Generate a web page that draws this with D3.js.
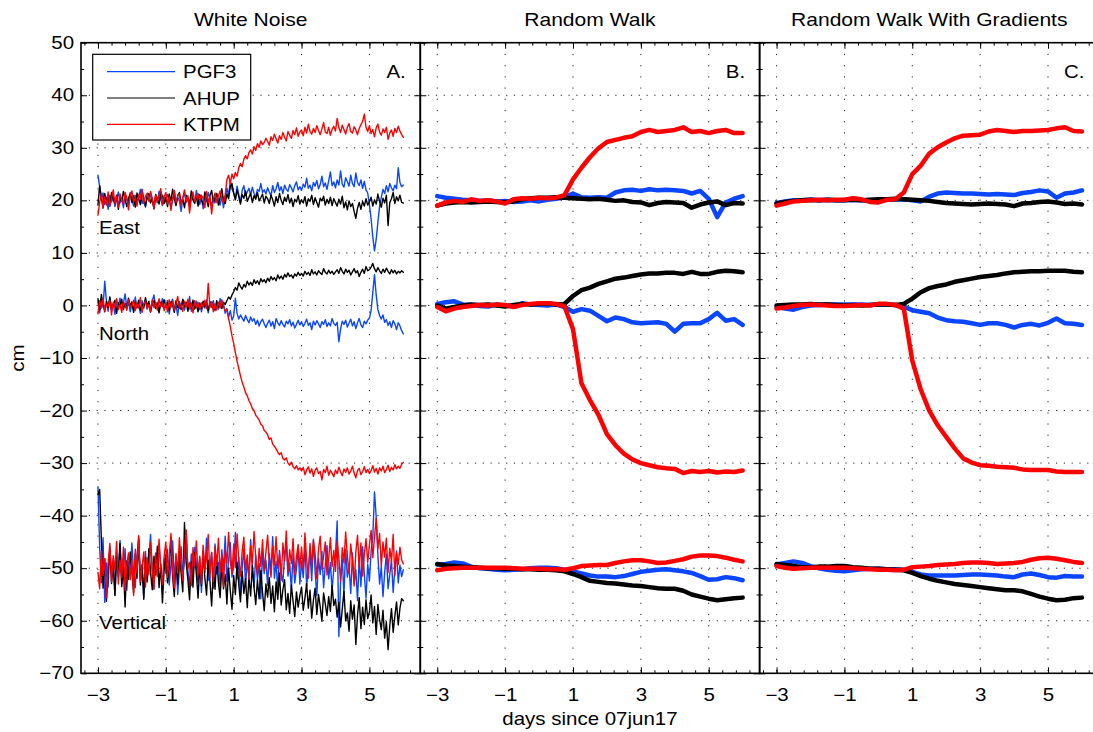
<!DOCTYPE html>
<html>
<head>
<meta charset="utf-8">
<script src="https://cdn.jsdelivr.net/npm/d3@7"></script>
<style>
body { margin: 0; background: #fff; }
svg { display: block; font-family: "Liberation Sans", Arial, Helvetica, sans-serif; }
</style>
</head>
<body>
<svg id="chart" width="1093" height="732"></svg>
<script>
// time grids (days since 07jun17)
var tA = d3.range(-3, 6.001, 0.05);
var tB = d3.range(-3, 6.001, 0.25);

var stations = ["PGF3", "AHUP", "KTPM"];
var colors = ["#0a45ff", "#000000", "#ff0000"];
var titles = ["White Noise", "Random Walk", "Random Walk With Gradients"];
var tags = ["A.", "B.", "C."];
var components = ["East", "North", "Vertical"];
var xMajor = [-3, -1, 1, 3, 5];
var yMajor = [-70, -60, -50, -40, -30, -20, -10, 0, 10, 20, 30, 40, 50];

// ---- panel A: white noise (every 0.05 day, one row per day) ----
var aEastP = [
 24.8, 22.6, 20.1, 21.4, 19.2, 20.6, 18.3, 21.0, 19.7, 20.9, 18.8, 20.2, 21.6, 19.5, 20.4, 18.6, 21.2, 20.0, 19.3, 21.5,
 20.3, 18.9, 21.0, 19.8, 20.7, 22.1, 19.4, 20.5, 18.7, 20.8, 19.9, 21.3, 20.1, 18.5, 20.6, 19.6, 21.7, 20.2, 19.0, 20.9,
 19.7, 21.1, 20.4, 18.6, 20.0, 21.8, 19.3, 20.6, 19.9, 17.9, 20.5, 21.4, 19.6, 20.2, 18.8, 21.0, 20.3, 19.4, 21.9, 20.1,
 19.2, 20.7, 18.4, 20.9, 19.8, 21.5, 20.2, 18.9, 20.6, 19.5, 21.2, 20.0, 19.1, 20.8, 18.6, 20.4, 22.3, 21.0, 23.6, 22.1,
 21.4, 20.2, 22.7, 21.1, 19.6, 21.9, 22.8, 20.9, 21.6, 22.3, 21.0, 22.5, 21.3, 20.6, 22.1, 21.7, 23.2, 21.5, 22.0, 21.2,
 22.4, 21.6, 20.9, 22.8, 21.5, 22.2, 23.4, 21.8, 22.6, 21.3, 22.9, 22.1, 21.7, 23.0, 22.4, 21.6, 22.8, 23.5, 22.0, 22.6,
 21.9, 23.1, 22.5, 24.2, 22.3, 22.9, 21.8, 23.4, 22.7, 23.8, 22.2, 23.0, 24.6, 22.6, 23.3, 22.1, 23.7, 25.4, 22.8, 23.5,
 22.4, 23.9, 22.9, 25.6, 23.1, 22.5, 24.3, 23.6, 22.7, 24.8, 23.2, 22.6, 25.2, 23.4, 22.8, 23.9, 22.3, 23.6, 22.0, 21.4,
 19.2, 16.5, 13.0, 10.4, 12.6, 15.8, 18.9, 20.5, 22.1, 21.3, 22.8, 21.6, 23.2, 22.4, 21.8, 22.9, 22.2, 26.2, 23.4, 22.6,
 22.9];
var aEastA = [
 19.1, 22.8, 20.4, 18.6, 21.3, 19.7, 20.8, 18.9, 21.5, 20.2, 19.4, 21.0, 18.3, 20.6, 19.9, 21.7, 20.1, 18.8, 20.5, 21.2,
 19.6, 20.9, 18.7, 21.4, 20.3, 19.2, 22.0, 20.0, 18.9, 20.7, 21.3, 19.5, 20.4, 18.4, 21.1, 20.2, 19.3, 21.6, 20.8, 19.4,
 20.6, 18.8, 21.2, 19.9, 22.1, 20.3, 19.0, 20.9, 21.5, 19.6, 20.2, 18.6, 21.0, 20.5, 19.3, 21.8, 20.1, 19.5, 20.7, 18.9,
 21.1, 20.0, 19.2, 21.6, 20.4, 18.8, 20.9, 21.9, 19.7, 20.5, 21.3, 19.1, 20.6, 22.2, 20.0, 19.4, 21.2, 20.3, 22.6, 23.2,
 21.4, 20.1, 22.0, 20.7, 19.3, 21.1, 20.4, 21.8, 19.8, 20.6, 21.3, 19.6, 20.9, 20.2, 21.5, 19.9, 20.5, 21.2, 19.5, 20.8,
 20.3, 19.4, 21.0, 20.1, 18.9, 20.7, 19.6, 21.3, 20.0, 19.2, 20.6, 19.8, 21.1, 19.5, 20.4, 18.8, 20.2, 19.7, 20.9, 19.3,
 20.1, 19.5, 20.7, 18.9, 20.3, 19.8, 21.0, 19.2, 20.5, 19.6, 18.7, 20.4, 19.9, 20.8, 19.1, 20.2, 19.4, 20.6, 19.0, 20.3,
 19.6, 18.9, 20.2, 19.3, 20.8, 18.6, 19.7, 18.2, 19.9, 18.8, 19.4, 17.9, 16.6, 18.5, 19.6, 18.3, 19.8, 18.9, 20.3, 19.1,
 19.7, 20.6, 18.9, 20.1, 19.3, 21.2, 19.8, 18.7, 20.4, 19.5, 21.0, 15.2, 19.6, 20.3, 21.5, 19.4, 20.7, 19.9, 21.0, 19.6,
 19.5];
var aEastK = [
 17.2, 19.6, 21.3, 18.5, 20.7, 19.1, 21.6, 18.9, 20.3, 22.0, 19.4, 20.8, 18.7, 21.2, 20.0, 19.3, 21.5, 20.4, 18.2, 20.9,
 21.8, 19.7, 20.5, 18.9, 21.1, 20.2, 22.1, 19.4, 20.8, 21.4, 19.8, 21.7, 20.3, 18.4, 21.0, 19.6, 20.9, 22.2, 19.2, 20.6,
 21.5, 19.3, 20.7, 18.1, 20.4, 21.9, 19.6, 20.8, 21.2, 19.0, 20.5, 22.0, 19.7, 20.9, 17.6, 20.3, 21.6, 19.8, 20.6, 21.3,
 19.9, 21.0, 20.4, 18.6, 21.7, 19.5, 20.8, 17.4, 20.2, 21.4, 19.6, 20.9, 21.8, 20.3, 19.4, 21.1, 23.9, 24.8, 23.2, 25.0,
 24.1, 25.3, 24.6, 26.2, 27.0, 26.4, 27.8, 28.5, 27.9, 29.1, 29.6, 28.8, 30.2, 29.5, 30.8, 30.1, 31.3, 30.6, 31.0, 31.8,
 31.2, 30.5, 32.1, 31.4, 32.6, 31.7, 30.9, 32.3, 31.6, 32.9, 32.0, 31.3, 33.1, 32.4, 31.8, 33.3, 32.5, 33.8, 32.2, 33.0,
 33.4, 32.3, 33.9, 32.8, 34.5, 33.1, 32.6, 33.7, 32.9, 34.2, 33.3, 32.5, 33.6, 34.8, 33.0, 32.7, 33.9, 32.4, 33.5, 34.1,
 33.2, 35.6, 33.8, 32.9, 34.3, 33.5, 32.6, 33.9, 34.6, 33.1, 32.8, 34.0, 33.4, 32.5, 33.7, 34.4, 35.0, 36.4, 33.9, 33.1,
 34.2, 32.7, 33.5, 32.1, 33.8, 34.5, 33.0, 32.4, 33.6, 32.9, 33.9, 31.6, 32.8, 33.4, 32.2, 33.7, 32.9, 34.1, 33.2, 32.5,
 32.0];
var aNorthP = [
 0.6, -1.4, 1.2, -0.3, 4.6, 0.8, -1.1, 1.5, -0.6, 0.3, -1.7, 0.9, -0.2, 1.4, -0.9, 0.5, 2.2, -0.4, 0.7, -1.2,
 0.2, -0.8, 1.6, -0.5, 0.4, -1.5, 0.9, -0.1, 1.1, -0.7, 0.3, -1.3, 0.8, 2.0, -0.4, 0.6, -1.0, 0.1, 1.3, -0.6,
 -0.2, 0.9, -1.6, 0.4, 1.2, -0.8, 0.1, -1.9, 0.7, -0.3, 1.0, -0.9, 0.5, -0.4, 1.7, -1.1, 0.2, -0.6, 0.8, -0.1,
 0.5, -1.2, 0.3, -0.5, 1.1, -1.4, 0.6, -0.2, 0.9, -1.0, 0.2, -0.7, 1.3, -0.3, 0.4, -1.5, -0.6, -2.2, -1.0, -2.8,
 -2.0, 1.4, -1.5, -2.6, -1.8, -2.4, -3.0, -1.9, -2.7, -3.3, -2.2, -3.0, -2.5, -3.6, -2.8, -3.9, -3.1, -2.6, -3.5, -4.2,
 -3.4, -2.8, -3.9, -3.1, -4.4, -2.5, -3.3, -3.8, -2.9, -3.6, -4.1, -3.0, -3.5, -2.7, -3.9, -3.2, -4.3, -3.6, -2.8, -3.7,
 -3.1, -4.0, -3.4, -2.6, -3.8, -3.3, -4.6, -3.0, -3.7, -2.9, -3.5, -4.2, -3.1, -3.6, -2.7, -4.0, -3.3, -3.9, -2.5, -3.4,
 -3.8, -3.2, -6.9, -4.5, -3.0, -3.6, -2.8, -4.1, -3.4, -2.6, -3.9, -3.1, -4.4, -3.3, -2.5, -3.7, -4.2, -3.0, -3.5, -2.8,
 -2.4, -1.0, 2.5, 5.9, 2.0, -0.8, -1.9, -2.6, -1.8, -3.2, -2.7, -3.8, -3.1, -4.2, -2.9, -3.5, -4.6, -3.3, -3.9, -4.8,
 -5.4];
var aNorthA = [
 1.3, -0.9, 2.1, 0.3, -1.2, 0.8, -0.4, 1.6, -0.7, 0.2, 1.0, -1.5, 0.5, -0.2, 1.2, -0.8, 0.4, -0.6, 1.4, 0.0,
 0.7, -1.3, 0.6, -0.3, 1.0, -0.9, 0.2, -0.5, 1.5, -0.1, 0.8, -1.1, 0.3, 0.9, -0.6, 0.4, -1.4, 0.6, -0.2, 1.1,
 -0.3, 0.5, -1.0, 0.7, 0.0, -1.3, 0.9, -0.4, 0.3, -0.8, 1.2, -0.2, 0.6, -1.1, 0.4, -0.5, 1.0, -0.7, 0.2, -1.2,
 0.4, -0.6, 0.8, -0.2, 0.5, -1.0, 0.7, -0.3, 0.1, -0.8, 0.9, -0.4, 0.3, -0.6, 0.6, 0.2, 0.9, 1.6, 1.2, 2.0,
 2.6, 3.4, 2.9, 4.3, 3.6, 3.1, 4.0, 3.5, 4.6, 3.9, 4.4, 3.8, 4.9, 4.2, 4.7, 4.0, 5.1, 4.5, 4.9, 4.3,
 5.2, 4.6, 5.5, 4.9, 5.3, 4.7, 5.8, 5.1, 5.6, 5.0, 5.9, 5.4, 6.2, 5.5, 5.8, 5.2, 6.0, 5.6, 6.3, 5.7,
 6.1, 5.6, 6.5, 5.9, 6.3, 5.7, 6.8, 6.0, 6.4, 5.8, 6.6, 6.2, 5.9, 7.0, 6.3, 6.0, 6.7, 6.1, 6.5, 5.9,
 6.4, 6.8, 6.1, 7.2, 6.5, 6.0, 6.9, 6.3, 6.7, 5.8, 6.4, 7.0, 6.2, 6.6, 5.5, 6.3, 6.9, 6.1, 7.4, 6.6,
 6.8, 7.3, 8.0, 7.0, 6.4, 7.2, 6.6, 6.1, 6.9, 6.3, 7.1, 6.5, 6.0, 6.8, 6.2, 6.7, 6.0, 6.5, 6.2, 6.6,
 6.3];
var aNorthK = [
 -1.6, 0.9, -0.5, 1.2, -1.1, 0.3, -0.2, 1.0, -1.8, 0.6, -0.4, 1.3, -0.8, 0.2, -1.3, 0.7, 0.1, -0.9, 1.1, -0.3,
 -0.1, 1.0, -1.0, 0.5, -0.5, 1.5, -1.3, 0.3, 0.8, -0.6, 0.2, -1.2, 1.1, -0.4, 0.6, -0.9, 1.3, -0.2, 0.4, -1.0,
 0.4, -1.2, 1.1, -0.4, 0.7, -0.9, 0.3, 1.7, -0.6, 0.2, -1.1, 0.8, -0.3, 1.2, -0.7, 0.5, -1.4, 0.9, -0.2, 0.6,
 -0.8, 0.5, -0.3, 1.0, -0.6, 4.2, -0.4, 0.7, -1.2, 0.3, -0.9, 0.6, -0.5, 1.1, -0.2, -1.0, -0.8, -2.5, -4.0, -5.8,
 -7.2, -9.0, -10.6, -12.0, -13.4, -14.6, -15.5, -16.6, -17.2, -18.1, -18.7, -19.6, -20.0, -20.9, -21.3, -21.8, -22.6, -22.9, -23.8, -24.1,
 -24.6, -25.5, -25.2, -26.4, -26.8, -27.3, -27.9, -28.4, -28.0, -29.1, -29.4, -29.0, -30.0, -30.4, -29.8, -30.7, -31.1, -30.5, -31.3, -30.9,
 -31.5, -30.8, -32.2, -31.3, -30.7, -31.9, -31.1, -32.5, -31.4, -30.9, -32.0, -31.6, -33.2, -31.2, -31.8, -30.6, -32.3, -31.4, -31.9, -32.6,
 -31.3, -32.0, -30.8, -31.7, -32.4, -31.1, -31.8, -30.9, -32.1, -31.5, -30.6, -31.9, -32.8, -31.4, -31.0, -32.2, -31.6, -30.7, -31.8, -31.2,
 -32.0, -31.4, -30.5, -31.7, -31.0, -32.1, -30.9, -31.5, -30.6, -31.8, -31.2, -30.4, -31.6, -30.8, -31.3, -30.3, -31.1, -30.6, -31.0, -30.2,
 -29.9];
var aVertP = [
 -34.5, -46.0, -52.8, -44.2, -56.5, -49.0, -53.6, -45.8, -51.2, -48.3, -55.1, -47.4, -50.6, -44.7, -52.9, -49.8, -46.3, -54.2, -48.7, -51.5,
 -45.2, -50.9, -53.7, -47.6, -44.1, -51.8, -49.3, -55.6, -46.8, -52.4, -48.0, -43.6, -50.7, -53.9, -47.1, -51.3, -45.5, -49.6, -54.3, -48.2,
 -51.0, -46.4, -53.2, -49.5, -44.8, -52.1, -47.7, -55.0, -50.2, -45.9, -51.6, -48.6, -42.8, -50.4, -53.5, -47.3, -51.9, -46.0, -49.2, -52.7,
 -48.1, -54.6, -46.7, -50.8, -44.3, -52.3, -49.7, -47.0, -53.8, -45.4, -51.1, -48.9, -54.0, -46.5, -50.3, -43.9, -52.5, -48.4, -45.1, -51.7,
 -49.4, -43.2, -52.0, -47.9, -55.3, -50.1, -46.2, -53.1, -48.8, -51.4, -44.6, -50.0, -53.6, -47.5, -52.2, -49.1, -55.8, -46.9, -51.0, -48.5,
 -53.3, -47.2, -50.5, -44.0, -51.9, -48.7, -54.7, -46.6, -50.9, -52.6, -47.8, -45.3, -51.5, -49.0, -54.1, -47.4, -52.8, -50.2, -46.1, -53.0,
 -48.6, -51.8, -45.6, -53.4, -49.9, -47.0, -52.4, -44.5, -50.6, -55.2, -48.1, -51.2, -46.8, -53.7, -49.3, -45.7, -52.0, -48.9, -54.4, -50.0,
 -47.5, -41.0, -63.0, -52.6, -48.2, -55.0, -46.4, -51.7, -49.5, -54.8, -47.1, -52.9, -50.3, -56.2, -48.0, -53.5, -45.9, -51.1, -55.7, -49.2,
 -52.4, -46.8, -44.0, -35.5, -40.2, -47.6, -53.0, -49.7, -55.4, -50.8, -47.3, -53.9, -51.2, -48.5, -54.6, -50.1, -46.7, -52.8, -49.4, -51.6,
 -50.3];
var aVertA = [
 -36.0, -35.0, -44.5, -53.8, -48.2, -56.3, -50.7, -46.4, -52.9, -49.1, -55.2, -47.8, -51.6, -45.3, -53.5, -49.8, -57.4, -48.6, -52.1, -46.9,
 -50.4, -54.7, -47.2, -51.9, -44.6, -53.2, -49.5, -55.9, -48.0, -52.6, -46.3, -50.8, -54.1, -47.7, -51.3, -45.8, -53.7, -49.2, -56.6, -50.1,
 -47.4, -52.8, -49.9, -44.1, -51.5, -55.4, -48.4, -53.0, -46.6, -50.9, -54.5, -41.3, -49.0, -52.2, -56.0, -48.8, -53.6, -47.0, -51.1, -55.7,
 -49.6, -53.3, -46.8, -51.8, -55.1, -48.5, -52.4, -57.2, -50.3, -54.0, -47.6, -52.7, -55.6, -49.4, -53.9, -51.2, -56.8, -50.0, -54.3, -57.8,
 -51.4, -55.0, -48.9, -53.1, -56.4, -50.6, -54.8, -52.0, -57.5, -51.7, -55.3, -49.5, -53.7, -56.9, -52.3, -55.8, -50.4, -54.6, -58.1, -53.0,
 -55.5, -51.8, -56.7, -53.4, -58.3, -52.6, -55.9, -50.9, -57.0, -54.1, -52.2, -57.9, -54.8, -58.6, -53.2, -56.3, -59.2, -54.5, -57.4, -55.2,
 -53.6, -58.0, -55.7, -52.9, -57.6, -54.2, -59.5, -56.1, -53.8, -58.8, -55.0, -57.3, -60.1, -54.7, -56.8, -59.0, -55.4, -58.2, -53.3, -57.1,
 -55.9, -59.3, -56.5, -61.2, -57.8, -54.4, -60.0, -58.5, -62.0, -56.2, -59.7, -57.0, -64.5, -58.9, -55.6, -61.5, -57.4, -60.7, -56.0, -59.6,
 -58.3, -55.1, -60.4, -57.3, -62.6, -56.9, -59.8, -61.7, -58.0, -63.3, -60.2, -65.5, -61.0, -57.7, -62.2, -59.1, -56.4, -60.8, -57.6, -55.8,
 -56.2];
var aVertK = [
 -50.8, -53.9, -46.7, -51.4, -48.2, -55.6, -49.1, -45.3, -52.7, -47.6, -50.3, -44.9, -53.0, -48.5, -51.8, -46.0, -54.3, -49.4, -47.1, -52.2,
 -48.6, -55.2, -46.4, -50.9, -43.8, -52.5, -49.7, -46.9, -53.6, -48.0, -51.2, -45.1, -49.8, -54.0, -47.3, -51.6, -44.5, -50.2, -53.1, -47.8,
 -45.0, -51.7, -48.3, -43.4, -50.6, -53.8, -47.2, -51.0, -44.2, -49.3, -52.4, -46.6, -42.7, -50.1, -48.9, -53.3, -46.1, -49.6, -44.8, -51.3,
 -47.7, -53.0, -45.6, -50.4, -48.1, -43.6, -51.9, -47.0, -52.6, -45.9, -49.5, -44.3, -50.8, -47.4, -53.5, -46.3, -49.0, -43.2, -48.7, -51.1,
 -45.4, -49.9, -43.5, -48.4, -51.5, -46.8, -44.1, -50.3, -47.5, -52.1, -45.7, -49.2, -43.0, -48.0, -51.4, -46.2, -49.7, -44.6, -50.5, -47.0,
 -43.7, -48.8, -51.7, -45.8, -49.4, -44.0, -50.0, -47.3, -52.3, -45.2, -48.6, -42.9, -50.7, -46.5, -49.1, -44.4, -51.2, -47.9, -45.5, -49.8,
 -46.0, -50.4, -43.3, -48.3, -51.9, -45.3, -49.5, -44.7, -47.2, -52.0, -46.4, -43.9, -50.2, -47.7, -45.0, -51.3, -48.2, -44.2, -49.7, -46.6,
 -50.6, -44.8, -48.1, -52.5, -46.1, -49.0, -43.1, -47.6, -51.0, -45.4, -48.5, -53.4, -46.9, -43.7, -49.9, -45.2, -51.5, -47.4, -44.4, -48.9,
 -45.6, -42.8, -48.0, -44.1, -40.5, -46.3, -43.4, -49.6, -45.0, -47.9, -44.3, -50.8, -46.2, -48.7, -43.6, -51.4, -47.1, -49.3, -46.0, -48.4,
 -49.2];

// ---- panel B: random walk (every 0.25 day) ----
var bEastP = [20.8, 20.5, 20.3, 20.1, 20.0, 19.9, 20.0, 19.8, 19.9, 19.7, 19.8, 20.0, 19.8, 20.1, 20.3, 20.6, 21.3, 20.6, 20.5, 20.6, 20.5, 21.5, 21.9, 22.0, 21.8, 22.1, 21.9, 22.0, 21.9, 21.8, 21.3, 21.8, 20.3, 16.8, 19.6, 20.3, 20.8];
var bEastA = [19.0, 19.4, 19.6, 19.7, 19.6, 19.7, 19.8, 19.7, 19.6, 19.8, 20.2, 20.4, 20.5, 20.5, 20.6, 20.5, 20.4, 20.3, 20.2, 20.3, 20.1, 19.9, 20.0, 19.7, 19.6, 19.1, 19.5, 19.7, 19.6, 19.5, 18.6, 19.2, 19.6, 19.8, 19.1, 19.5, 19.4];
var bEastK = [19.0, 19.6, 19.9, 19.7, 20.2, 19.9, 20.0, 19.8, 19.4, 20.2, 20.4, 20.3, 20.5, 20.4, 20.5, 21.0, 24.0, 26.2, 28.2, 29.9, 31.1, 31.5, 31.9, 32.2, 33.0, 33.4, 33.0, 33.2, 33.4, 33.9, 33.0, 33.2, 32.8, 33.2, 33.4, 32.8, 32.8];
var bNorthP = [0.3, 0.6, 0.8, 0.2, 0.1, -0.1, -0.2, 0.2, 0.0, -0.2, 0.4, 0.2, 0.1, 0.0, 0.2, -0.3, -1.2, -0.7, -1.0, -2.0, -3.0, -2.3, -2.6, -3.2, -3.4, -3.3, -3.2, -3.5, -5.0, -3.5, -3.4, -3.4, -2.6, -1.4, -2.9, -2.6, -3.7];
var bNorthA = [0.0, -0.6, -0.3, 0.0, 0.2, 0.1, 0.2, 0.0, -0.2, 0.1, 0.3, 0.2, 0.3, 0.4, 0.2, 0.3, 1.8, 2.9, 3.4, 4.1, 4.6, 5.1, 5.3, 5.6, 5.9, 6.1, 6.1, 6.2, 6.2, 6.0, 6.4, 6.0, 6.0, 6.4, 6.6, 6.5, 6.3];
var bNorthK = [-0.3, -1.1, -0.6, -0.3, -0.1, 0.1, 0.0, 0.2, 0.1, -0.3, 0.1, 0.3, 0.4, 0.4, 0.3, -0.2, -4.5, -14.8, -18.0, -20.8, -24.5, -26.6, -28.2, -29.3, -30.0, -30.4, -30.8, -31.0, -31.1, -31.9, -31.5, -31.7, -31.5, -31.8, -31.6, -31.7, -31.4];
var bVertP = [-49.3, -49.2, -48.9, -49.1, -49.7, -50.0, -50.1, -50.3, -50.4, -50.3, -50.2, -50.0, -49.9, -49.9, -50.0, -50.3, -50.6, -51.0, -51.4, -51.6, -51.6, -51.7, -51.5, -51.1, -50.7, -50.5, -50.3, -50.2, -50.4, -50.6, -50.9, -51.5, -52.2, -52.1, -51.7, -51.9, -52.3];
var bVertA = [-49.2, -49.5, -49.6, -49.7, -49.8, -49.9, -50.0, -50.0, -50.1, -50.1, -50.2, -50.2, -50.3, -50.3, -50.4, -50.6, -51.1, -51.7, -52.4, -52.6, -52.8, -52.9, -53.1, -53.3, -53.4, -53.6, -53.8, -53.9, -53.9, -54.3, -55.0, -55.4, -55.8, -56.1, -55.9, -55.7, -55.6];
var bVertK = [-50.4, -50.1, -50.0, -49.9, -49.9, -49.9, -49.9, -49.9, -49.9, -50.0, -50.1, -50.1, -50.1, -50.2, -50.2, -50.3, -50.0, -49.6, -49.5, -49.4, -49.4, -49.0, -48.7, -48.5, -48.5, -48.7, -49.0, -48.9, -48.6, -48.3, -47.8, -47.6, -47.6, -47.7, -48.0, -48.4, -48.7];

// ---- panel C: random walk with gradients (every 0.25 day) ----
var cEastP = [19.5, 19.8, 20.0, 20.0, 20.1, 20.0, 20.1, 20.0, 20.0, 20.1, 20.0, 19.9, 20.0, 20.1, 20.1, 20.2, 20.0, 19.8, 20.7, 21.3, 21.5, 21.4, 21.3, 21.3, 21.2, 21.1, 21.2, 21.1, 21.0, 21.4, 21.6, 21.9, 21.7, 20.5, 21.3, 21.5, 21.9];
var cEastA = [19.4, 19.7, 19.9, 20.0, 20.1, 20.0, 20.1, 20.0, 20.0, 20.1, 20.0, 20.1, 20.2, 20.2, 20.3, 20.2, 20.1, 20.0, 19.9, 19.7, 19.5, 19.4, 19.3, 19.2, 19.3, 19.4, 19.3, 19.2, 18.9, 19.4, 19.5, 19.7, 19.8, 19.6, 19.3, 19.4, 19.2];
var cEastK = [19.0, 19.4, 19.8, 19.9, 20.0, 20.1, 20.0, 20.1, 20.1, 20.4, 20.2, 19.7, 19.6, 20.1, 20.2, 21.5, 25.0, 26.6, 28.9, 30.1, 31.0, 31.8, 32.3, 32.4, 32.5, 33.1, 33.4, 33.2, 33.0, 33.2, 33.2, 33.3, 33.4, 33.7, 33.9, 33.2, 33.1];
var cNorthP = [-0.3, -0.6, -0.8, -0.3, 0.0, 0.1, 0.2, 0.2, 0.2, 0.2, 0.2, 0.1, 0.2, 0.2, 0.1, -0.2, -0.9, -1.2, -1.5, -2.3, -2.8, -3.0, -3.1, -3.4, -3.7, -3.4, -3.4, -3.7, -4.2, -3.7, -3.5, -3.8, -3.3, -2.5, -3.4, -3.5, -3.7];
var cNorthA = [0.0, 0.1, 0.2, 0.2, 0.3, 0.2, 0.2, 0.1, 0.0, 0.1, 0.0, 0.1, 0.2, 0.2, 0.1, 0.3, 1.3, 2.5, 3.3, 3.7, 4.0, 4.5, 4.8, 5.1, 5.4, 5.6, 5.8, 6.1, 6.3, 6.4, 6.5, 6.5, 6.6, 6.6, 6.6, 6.4, 6.3];
var cNorthK = [-0.6, -0.4, -0.1, 0.1, 0.2, 0.1, 0.0, -0.1, -0.1, 0.0, 0.1, 0.0, 0.3, 0.3, 0.1, -0.6, -10.5, -16.0, -20.0, -22.8, -25.0, -27.2, -29.1, -29.9, -30.4, -30.5, -30.7, -30.8, -30.9, -31.2, -31.3, -31.3, -31.3, -31.6, -31.7, -31.7, -31.7];
var cVertP = [-49.3, -49.0, -48.7, -49.0, -49.6, -50.0, -50.3, -50.5, -50.6, -50.4, -50.2, -50.1, -50.1, -50.2, -50.2, -50.3, -50.7, -51.2, -51.4, -51.4, -51.4, -51.4, -51.3, -51.2, -51.2, -51.3, -51.4, -51.6, -51.7, -51.2, -51.0, -51.3, -51.7, -51.8, -51.5, -51.6, -51.6];
var cVertA = [-49.2, -49.4, -49.6, -49.8, -49.8, -49.7, -49.7, -49.6, -49.6, -49.8, -49.9, -50.1, -50.1, -50.2, -50.3, -50.4, -50.9, -51.5, -52.0, -52.4, -52.7, -53.0, -53.2, -53.4, -53.6, -53.8, -54.0, -54.2, -54.2, -54.4, -54.9, -55.4, -55.8, -56.1, -56.0, -55.7, -55.6];
var cVertK = [-49.6, -49.9, -50.1, -50.0, -49.9, -49.9, -49.9, -49.9, -49.9, -50.0, -50.1, -50.2, -50.3, -50.3, -50.4, -50.3, -49.8, -49.7, -49.6, -49.4, -49.3, -49.2, -49.0, -48.9, -48.9, -49.0, -49.2, -49.1, -49.0, -48.8, -48.4, -48.1, -48.0, -48.2, -48.5, -48.8, -49.0];

var panels = [
  { t: tA, lw: 1.4, series: [[aEastP, aEastA, aEastK], [aNorthP, aNorthA, aNorthK], [aVertP, aVertA, aVertK]] },
  { t: tB, lw: 4.5, series: [[bEastP, bEastA, bEastK], [bNorthP, bNorthA, bNorthK], [bVertP, bVertA, bVertK]] },
  { t: tB, lw: 4.5, series: [[cEastP, cEastA, cEastK], [cNorthP, cNorthA, cNorthK], [cVertP, cVertA, cVertK]] }
];

var LEFT = 81, PW = 339.3, TOP = 42.7, BOTTOM = 673.3;
var SX = 1.17;   // horizontal stretch of the lettering
var FS = 17.5;

var svg = d3.select("#chart");
var y = d3.scaleLinear().domain([-70, 50]).range([BOTTOM, TOP]);

function label(parent, x, yy, str, anchor, size, rot) {
  return parent.append("text")
    .attr("transform", "translate(" + x + "," + yy + ")" + (rot ? " rotate(" + rot + ")" : "") + " scale(" + SX + ",1)")
    .attr("text-anchor", anchor || "start")
    .attr("font-size", size || FS)
    .attr("fill", "#000")
    .text(str);
}

function styleAxis(sel) {
  sel.select(".domain").remove();
  sel.attr("font-family", null).attr("font-size", FS);
  sel.selectAll(".tick line").attr("stroke", "#000").attr("stroke-width", 1);
  sel.selectAll(".tick text").attr("fill", "#000");
}

var minorX = d3.range(-3.4, 6.5, 0.4);
var minorY = d3.range(-65, 50, 10);

panels.forEach(function(p, k) {
  var left = LEFT + k * PW, right = left + PW;
  var x = d3.scaleLinear().domain([-3.5, 6.5]).range([left, right]);
  var g = svg.append("g");

  svg.append("clipPath").attr("id", "clip" + k)
    .append("rect").attr("x", left).attr("y", TOP).attr("width", PW).attr("height", BOTTOM - TOP);

  // dotted grid
  g.selectAll(".hg").data(yMajor.slice(1, -1)).enter().append("line")
    .attr("x1", left).attr("x2", right)
    .attr("y1", function(d) { return y(d); }).attr("y2", function(d) { return y(d); })
    .attr("stroke", "#222").attr("stroke-width", 1).attr("stroke-dasharray", "1.2,6.6");
  g.selectAll(".vg").data(xMajor).enter().append("line")
    .attr("y1", TOP).attr("y2", BOTTOM)
    .attr("x1", function(d) { return x(d); }).attr("x2", function(d) { return x(d); })
    .attr("stroke", "#222").attr("stroke-width", 1).attr("stroke-dasharray", "1.2,10");

  // series
  var line = d3.line()
    .defined(function(d, i) { return p.t[i] !== undefined; })
    .x(function(d, i) { return x(p.t[i]); })
    .y(function(d) { return y(d); });
  var lines = g.append("g").attr("clip-path", "url(#clip" + k + ")");
  p.series.forEach(function(comp) {
    comp.forEach(function(vals, s) {
      lines.append("path").datum(vals)
        .attr("d", line)
        .attr("fill", "none")
        .attr("stroke", colors[s])
        .attr("stroke-width", p.lw)
        .attr("stroke-linejoin", "round")
        .attr("stroke-linecap", "round");
    });
  });

  // axes: ticks point inward
  g.append("g").attr("transform", "translate(0," + BOTTOM + ")")
    .call(d3.axisBottom(x).tickValues(xMajor).tickSizeInner(-6).tickSizeOuter(0).tickPadding(15).tickFormat(d3.format("d")))
    .call(styleAxis)
    .call(function(a) { a.selectAll(".tick text").attr("transform", "scale(" + SX + ",1)"); });
  g.append("g").attr("transform", "translate(0," + BOTTOM + ")")
    .call(d3.axisBottom(x).tickValues(minorX).tickSizeInner(-3).tickSizeOuter(0).tickFormat(""))
    .call(styleAxis);
  g.append("g").attr("transform", "translate(0," + TOP + ")")
    .call(d3.axisTop(x).tickValues(xMajor).tickSizeInner(-6).tickSizeOuter(0).tickFormat(""))
    .call(styleAxis);
  g.append("g").attr("transform", "translate(0," + TOP + ")")
    .call(d3.axisTop(x).tickValues(minorX).tickSizeInner(-3).tickSizeOuter(0).tickFormat(""))
    .call(styleAxis);

  var yl = g.append("g").attr("transform", "translate(" + left + ",0)")
    .call(d3.axisLeft(y).tickValues(yMajor).tickSizeInner(-6).tickSizeOuter(0).tickPadding(7)
      .tickFormat(k === 0 ? d3.format("d") : ""))
    .call(styleAxis);
  yl.selectAll(".tick text").attr("x", -7 / SX).attr("transform", "scale(" + SX + ",1)");
  g.append("g").attr("transform", "translate(" + left + ",0)")
    .call(d3.axisLeft(y).tickValues(minorY).tickSizeInner(-3).tickSizeOuter(0).tickFormat(""))
    .call(styleAxis);
  g.append("g").attr("transform", "translate(" + right + ",0)")
    .call(d3.axisRight(y).tickValues(yMajor).tickSizeInner(-6).tickSizeOuter(0).tickFormat(""))
    .call(styleAxis);
  g.append("g").attr("transform", "translate(" + right + ",0)")
    .call(d3.axisRight(y).tickValues(minorY).tickSizeInner(-3).tickSizeOuter(0).tickFormat(""))
    .call(styleAxis);

  // frame
  g.append("rect").attr("x", left).attr("y", TOP).attr("width", PW).attr("height", BOTTOM - TOP)
    .attr("fill", "none").attr("stroke", "#000").attr("stroke-width", 1.6);

  label(g, left + PW / 2, 26, titles[k], "middle", 18);
  label(g, right - 14.5, 77.5, tags[k], "end");

  if (k === 0) {
    label(g, 99, 234, components[0]);
    label(g, 99, 340, components[1]);
    label(g, 99, 629, components[2]);

    var lg = g.append("g");
    lg.append("rect").attr("x", 92.7).attr("y", 54.3).attr("width", 158).attr("height", 85.7)
      .attr("fill", "#fff").attr("stroke", "#000").attr("stroke-width", 1.2);
    stations.forEach(function(name, s) {
      var ly = 71.7 + s * 26.3;
      lg.append("line").attr("x1", 107).attr("x2", 175).attr("y1", ly).attr("y2", ly)
        .attr("stroke", colors[s]).attr("stroke-width", 1.2);
      label(lg, 183, ly + 6.6, name);
    });
  }
});

label(svg, LEFT + PW * 1.5, 725, "days since 07jun17", "middle");
label(svg, 24, (TOP + BOTTOM) / 2, "cm", "middle", FS, -90);
</script>
</body>
</html>
